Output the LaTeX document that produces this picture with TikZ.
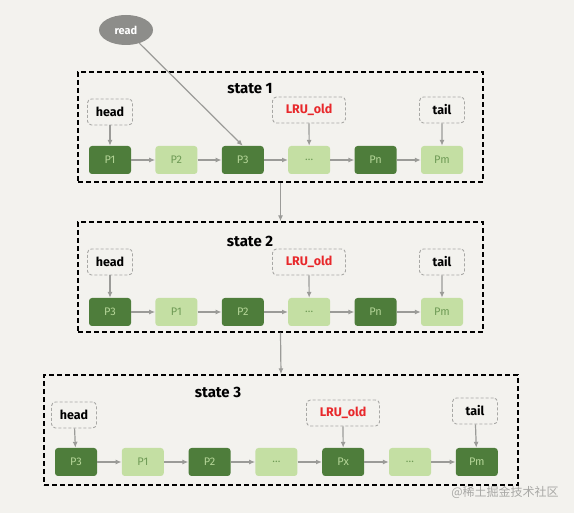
\documentclass[tikz,border=0pt]{standalone}
\usepackage{fontspec}
\setmainfont{Fira Sans}
\newfontfamily\cjk{Noto Sans CJK SC}
\usetikzlibrary{positioning, arrows.meta, shapes.geometric}

\definecolor{bgcol}{HTML}{F3F2EE}
\definecolor{darkg}{HTML}{4E7D3B}
\definecolor{lightg}{HTML}{C4DFA3}
\definecolor{midg}{HTML}{6E9A55}
\definecolor{paleg}{HTML}{B5D698}
\definecolor{arrowg}{HTML}{9B9B98}
\definecolor{tagline}{HTML}{A8A8A5}
\definecolor{readg}{HTML}{8D8D8A}
\definecolor{lrured}{HTML}{E8282B}

\tikzset{
  page/.style={minimum width=42pt, minimum height=28pt, rounded corners=3pt, inner sep=0pt, font=\fontsize{11}{13}\selectfont},
  pgdark/.style={page, fill=darkg, text=paleg},
  pglight/.style={page, fill=lightg, text=midg},
  tag/.style={draw=tagline, dash pattern=on 3pt off 2pt, rounded corners=4pt, minimum width=45pt, minimum height=26pt, inner sep=0pt, line width=0.9pt, font=\fontsize{12.5}{14}\selectfont\bfseries},
  frame/.style={draw=black, dash pattern=on 5pt off 3pt, line width=1.3pt, inner sep=0pt},
  link/.style={-{Latex[length=6pt,width=5pt]}, draw=arrowg, line width=1.2pt},
  title/.style={font=\fontsize{15}{17}\selectfont\bfseries},
}

\begin{document}
\begin{tikzpicture}[x=1pt, y=-1pt]

		% background and page size
		\fill[bgcol] (0,0) rectangle (574,513);
		\useasboundingbox (0,0) rectangle (574,513);

		% the three dashed frames
		\node[frame, minimum width=405pt, minimum height=110pt] (f1) at (280.5,127) {};
		\node[frame, minimum width=405pt, minimum height=110pt] (f2) at (280.5,277) {};
		\node[frame, minimum width=474pt, minimum height=110pt] (f3) at (281,430) {};
		\node[title] (st1) at (250,89) {state 1};
		\node[title] (st2) at (250,241) {state 2};
		\node[title] (st3) at (218,392) {state 3};

		% state 1
		\foreach \lab/\sty [count=\i] in {P1/pgdark, P2/pglight, P3/pgdark, \ldots/pglight, Pn/pgdark, Pm/pglight}{
			\pgfmathsetmacro{\xpos}{110+66.4*(\i-1)}
			\node[\sty] (s1n\i) at (\xpos,160) {\lab};
		}
		% state 2
		\foreach \lab/\sty [count=\i] in {P3/pgdark, P1/pglight, P2/pgdark, \ldots/pglight, Pn/pgdark, Pm/pglight}{
			\pgfmathsetmacro{\xpos}{110+66.4*(\i-1)}
			\node[\sty] (s2n\i) at (\xpos,312) {\lab};
		}
		% state 3
		\foreach \lab/\sty [count=\i] in {P3/pgdark, P1/pglight, P2/pgdark, \ldots/pglight, Px/pgdark, \ldots/pglight, Pm/pgdark}{
			\pgfmathsetmacro{\xpos}{76+66.8*(\i-1)}
			\node[\sty] (s3n\i) at (\xpos,462) {\lab};
		}

		% links along each list
		\foreach \i [evaluate=\i as \j using int(\i+1)] in {1,...,5}{
			\draw[link] (s1n\i) -- (s1n\j);
			\draw[link] (s2n\i) -- (s2n\j);
		}
		\foreach \i [evaluate=\i as \j using int(\i+1)] in {1,...,6}{
			\draw[link] (s3n\i) -- (s3n\j);
		}

		% pointers
		\node[tag] (h1) at (110,112) {head};
		\node[tag, minimum width=73pt, text=lrured] (l1) at (309,110) {LRU\_old};
		\node[tag] (t1) at (442,110) {tail};
		\node[tag] (h2) at (110,262) {head};
		\node[tag, minimum width=73pt, text=lrured] (l2) at (309,262) {LRU\_old};
		\node[tag] (t2) at (442,262) {tail};
		\node[tag] (h3) at (74,415) {head};
		\node[tag, minimum width=73pt, text=lrured] (l3) at (343,413) {LRU\_old};
		\node[tag] (t3) at (475,411) {tail};
		\draw[link] (h1) -- (s1n1);
		\draw[link] (l1) -- (s1n4);
		\draw[link] (t1) -- (s1n6);
		\draw[link] (h2) -- (s2n1);
		\draw[link] (l2) -- (s2n4);
		\draw[link] (t2) -- (s2n6);
		\draw[link] (h3) -- (s3n1);
		\draw[link] (l3) -- (s3n5);
		\draw[link] (t3) -- (s3n7);

		% the read
		\node[ellipse, fill=readg, text=white, minimum width=54pt, minimum height=30pt, inner sep=0pt, font=\fontsize{11}{13}\selectfont\bfseries] (rd) at (126,30) {read};
		\draw[link] (rd) -- (s1n3.north);

		% from one state to the next
		\draw[link] (f1.south) -- (f2.north);
		\draw[link] (f2.south) -- (f3.north);

		\node[text=tagline, font=\cjk\fontsize{12}{14}\selectfont] (wm) at (505,492) {@稀土掘金技术社区};
	\end{tikzpicture}
\end{document}
